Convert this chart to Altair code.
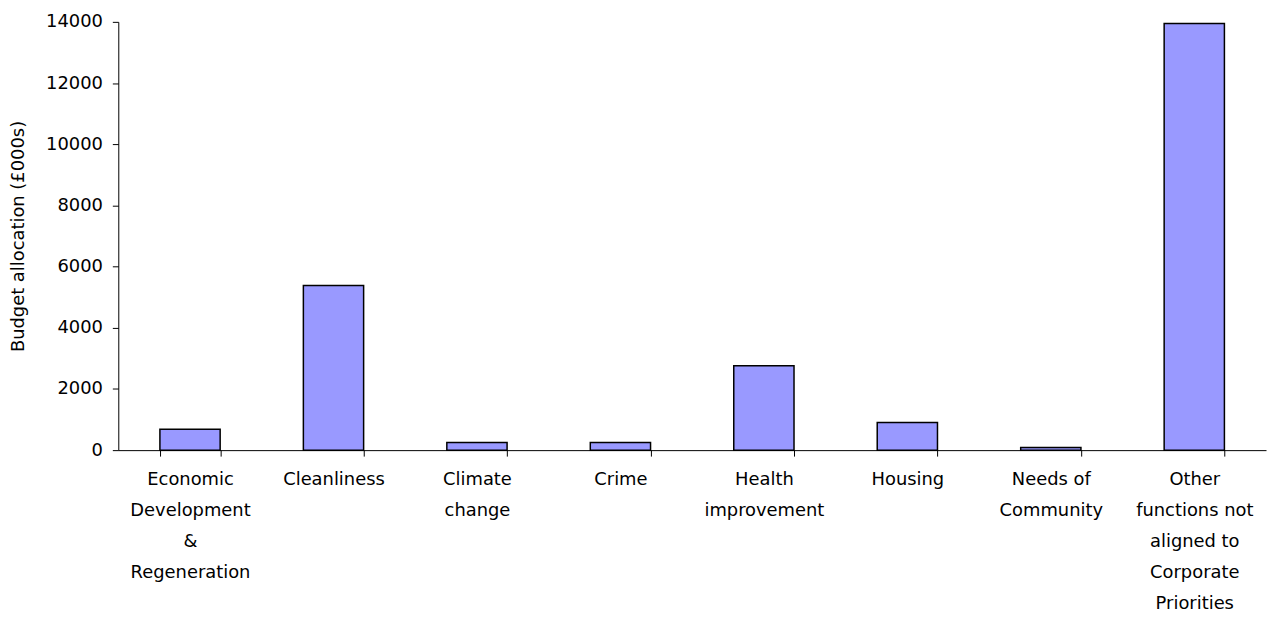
import altair as alt
import pandas as pd

categories = [
    "Economic\nDevelopment\n&\nRegeneration",
    "Cleanliness",
    "Climate\nchange",
    "Crime",
    "Health\nimprovement",
    "Housing",
    "Needs of\nCommunity",
    "Other\nfunctions not\naligned to\nCorporate\nPriorities",
]
values = [680, 5380, 250, 250, 2760, 900, 90, 13950]

df = pd.DataFrame({"category": categories, "value": values})

font = "DejaVu Sans"
fs = 18

chart = (
    alt.Chart(df)
    .mark_bar(color="#9999FF", stroke="black", strokeWidth=1.5)
    .encode(
        x=alt.X(
            "category:N",
            sort=categories,
            title=None,
            scale=alt.Scale(paddingInner=0.58, paddingOuter=0.29),
            axis=alt.Axis(
                labelExpr="split(datum.label, '\\n')",
                labelAngle=0,
                labelFont=font,
                labelFontSize=fs,
                labelColor="black",
                labelLineHeight=31,
                labelPadding=15,
                labelBaseline="top",
                tickBand="extent",
                tickSize=6,
                tickColor="black",
                domainColor="black",
                labelLimit=300,
            ),
        ),
        y=alt.Y(
            "value:Q",
            title="Budget allocation (£000s)",
            scale=alt.Scale(domain=[0, 14000], nice=False),
            axis=alt.Axis(
                values=list(range(0, 14001, 2000)),
                format="d",
                labelFont=font,
                labelFontSize=fs,
                labelColor="black",
                labelPadding=10,
                tickSize=6,
                tickColor="black",
                domainColor="black",
                grid=False,
                titleFont=font,
                titleFontSize=fs,
                titleFontWeight="normal",
                titleColor="black",
                titlePadding=18,
            ),
        ),
    )
    .properties(
        width=1155,
        height=431,
        autosize=alt.AutoSizeParams(type="none"),
        padding={"left": 111, "top": 12, "right": 2, "bottom": 171},
    )
    .configure_view(stroke=None)
)

chart.save("out.html", embed_options={"renderer": "svg", "actions": False})
